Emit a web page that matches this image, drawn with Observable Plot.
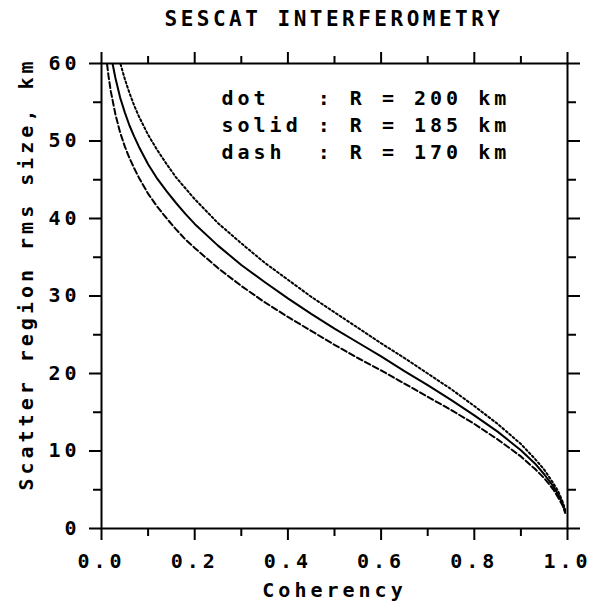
<!DOCTYPE html>
<html>
<head>
<meta charset="utf-8">
<script src="https://cdn.jsdelivr.net/npm/d3@7"></script>
<script src="https://cdn.jsdelivr.net/npm/@observablehq/plot@0.6"></script>
<style>
html, body { margin: 0; padding: 0; background: #fff; }
#title {
  height: 40px; box-sizing: border-box; padding-top: 9px; padding-left: 101px; width: 567px;
  text-align: center; font-family: "DejaVu Sans Mono", monospace; font-size: 21px; line-height: 20px;
  letter-spacing: 3.5px; color: #000; white-space: nowrap; font-weight: bold;
}
</style>
</head>
<body>
<div id="title">SESCAT INTERFEROMETRY</div>
<div id="chart"></div>
<script>
// Values
const titleText = "SESCAT INTERFEROMETRY";
const xLabel = "Coherency";
const yLabel = "Scatter region rms size, km";
const legendLines = ["dot\u00A0\u00A0\u00A0: R = 200 km", "solid : R = 185 km", "dash\u00A0\u00A0: R = 170 km"];

const xMajor = [0, 0.2, 0.4, 0.6, 0.8, 1.0];
const xMinor = [0.1, 0.3, 0.5, 0.7, 0.9];
const yMajor = [0, 10, 20, 30, 40, 50, 60];
const yMinor = [5, 15, 25, 35, 45, 55];

// dot : R = 200 km
const dotC = [0.041,0.05,0.06,0.07,0.08,0.10,0.12,0.14,0.16,0.18,0.20,0.25,0.30,0.35,0.40,0.45,0.50,0.55,0.60,0.65,0.70,0.75,0.80,0.85,0.90,0.93,0.95,0.97,0.98,0.99,0.995];
const dotV = [59.9,58.0,56.2,54.6,53.2,50.8,48.8,47.0,45.3,43.9,42.5,39.4,36.8,34.3,32.1,29.9,27.9,25.9,23.9,22.0,20.0,18.0,15.8,13.5,10.9,9.0,7.6,5.8,4.8,3.4,2.4];

// solid : R = 185 km
const solidC = [0.024,0.03,0.04,0.05,0.06,0.07,0.08,0.10,0.12,0.14,0.16,0.18,0.20,0.25,0.30,0.35,0.40,0.45,0.50,0.55,0.60,0.65,0.70,0.75,0.80,0.85,0.90,0.93,0.95,0.97,0.98,0.99,0.995];
const solidV = [59.9,58.1,55.6,53.7,52.0,50.6,49.3,47.0,45.1,43.5,42.0,40.6,39.3,36.5,34.0,31.8,29.7,27.7,25.8,24.0,22.2,20.3,18.5,16.6,14.6,12.5,10.1,8.4,7.0,5.4,4.4,3.1,2.2];

// dash : R = 170 km
const dashC = [0.012,0.015,0.02,0.03,0.04,0.05,0.06,0.07,0.08,0.10,0.12,0.14,0.16,0.18,0.20,0.25,0.30,0.35,0.40,0.45,0.50,0.55,0.60,0.65,0.70,0.75,0.80,0.85,0.90,0.93,0.95,0.97,0.98,0.99,0.995];
const dashV = [59.9,58.4,56.4,53.4,51.1,49.3,47.8,46.5,45.3,43.2,41.5,40.0,38.6,37.3,36.2,33.6,31.3,29.2,27.3,25.5,23.7,22.0,20.4,18.7,17.0,15.3,13.5,11.5,9.3,7.7,6.5,5.0,4.0,2.9,2.0];

const toRows = (cs, vs) => cs.map((c, i) => ({c, v: vs[i]}));
const dot = toRows(dotC, dotV);
const solid = toRows(solidC, solidV);
const dash = toRows(dashC, dashV);

document.getElementById("title").textContent = titleText;

const blank = () => "";
const chart = Plot.plot({
  width: 595,
  height: 568,
  marginTop: 23,
  marginBottom: 80,
  marginLeft: 101,
  marginRight: 28,
  x: {domain: [0, 1], label: null},
  y: {domain: [0, 60], label: null},
  style: {fontFamily: '"DejaVu Sans Mono", monospace', fontSize: "20px", fontWeight: "bold", letterSpacing: "4px", color: "#000", background: "#fff", overflow: "visible"},
  marks: [
    Plot.axisX(xMajor, {anchor: "bottom", tickSize: 12, tickPadding: 13, strokeWidth: 2, tickFormat: d => d.toFixed(1), label: null}),
    Plot.axisX(xMinor, {anchor: "bottom", tickSize: 8, strokeWidth: 2, tickFormat: blank, label: null}),
    Plot.axisX(xMajor, {anchor: "top", tickSize: 12, strokeWidth: 2, tickFormat: blank, label: null}),
    Plot.axisX(xMinor, {anchor: "top", tickSize: 8, strokeWidth: 2, tickFormat: blank, label: null}),
    Plot.axisY(yMajor, {anchor: "left", tickSize: 12, tickPadding: 9, strokeWidth: 2, tickFormat: d => String(d), label: null}),
    Plot.axisY(yMinor, {anchor: "left", tickSize: 8, strokeWidth: 2, tickFormat: blank, label: null}),
    Plot.axisY(yMajor, {anchor: "right", tickSize: 12, strokeWidth: 2, tickFormat: blank, label: null}),
    Plot.axisY(yMinor, {anchor: "right", tickSize: 8, strokeWidth: 2, tickFormat: blank, label: null}),
    Plot.frame({stroke: "#000", strokeWidth: 2}),
    Plot.line(dot, {x: "c", y: "v", stroke: "#000", strokeWidth: 2, strokeDasharray: "2,2.5"}),
    Plot.line(solid, {x: "c", y: "v", stroke: "#000", strokeWidth: 2}),
    Plot.line(dash, {x: "c", y: "v", stroke: "#000", strokeWidth: 2, strokeDasharray: "6,3"}),
    Plot.text([legendLines.join("\n")], {frameAnchor: "top-left", textAnchor: "start", lineAnchor: "top", lineHeight: 1.33, dx: 120, dy: 23, fill: "#000"}),
    Plot.text([xLabel], {frameAnchor: "bottom", textAnchor: "middle", lineAnchor: "middle", dy: 62, fill: "#000"}),
    Plot.text([yLabel], {frameAnchor: "left", textAnchor: "middle", lineAnchor: "middle", rotate: -90, dx: -75, dy: -22, fill: "#000"})
  ]
});
document.getElementById("chart").appendChild(chart);
</script>
</body>
</html>
